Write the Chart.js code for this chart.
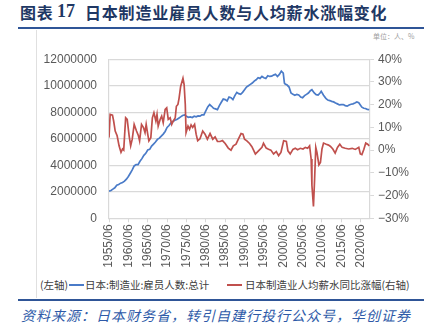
<!DOCTYPE html>
<html>
<head>
<meta charset="utf-8">
<script src="https://cdn.jsdelivr.net/npm/chart.js@4"></script>
<style>
  body { margin: 0; width: 435px; height: 334px; background: #fff; position: relative; overflow: hidden; font-family: "Noto Sans CJK SC", sans-serif; }
  .titre { position: absolute; top: 0px; font-size: 16px; font-weight: bold; color: #1f3864; white-space: nowrap; line-height: 24px; letter-spacing: 0.8px; }
  .titre.num { font-family: "Liberation Serif", serif; font-size: 18px; letter-spacing: 0; }
  .regle { position: absolute; left: 18px; width: 406px; height: 2px; background: #2f5597; }
  .bord { position: absolute; left: 36px; top: 30px; width: 1px; height: 268px; background: #e0e0e0; }
  .unite { position: absolute; left: 373px; top: 31px; font-size: 7px; color: #a0a0a0; white-space: nowrap; }
  .leg { position: absolute; top: 277px; font-size: 10.5px; line-height: 16px; color: #404040; white-space: nowrap; }
  .trait { position: absolute; top: 284px; height: 2px; width: 15px; }
  .source { position: absolute; left: 21px; top: 305px; font-size: 14px; line-height: 20px; font-style: italic; letter-spacing: 1px; color: #2e5aa8; white-space: nowrap; }
  canvas { position: absolute; left: 37px; top: 40px; }
</style>
</head>
<body>
<div class="titre" style="left:20px">图表</div>
<div class="titre num" style="left:57px;top:-1px">17</div>
<div class="titre" style="left:85px">日本制造业雇员人数与人均薪水涨幅变化</div>
<div class="regle" style="top:27px"></div>
<div class="bord"></div>
<div class="unite">单位：人、%</div>
<canvas id="graphique" width="390" height="235"></canvas>
<div class="leg" style="left:40px">(左轴)</div>
<div class="trait" style="left:69px;background:#4a7bc8"></div>
<div class="leg" style="left:85px">日本:制造业:雇员人数:总计</div>
<div class="trait" style="left:227px;background:#c0504d"></div>
<div class="leg" style="left:245px">日本制造业人均薪水同比涨幅(右轴)</div>
<div class="regle" style="top:299px"></div>
<div class="source">资料来源：日本财务省，转引自建行投行公众号，华创证券</div>
<script>
// x tick labels (category every 5 years, June)
const xTickLabels = ['1955/06', '1960/06', '1965/06', '1970/06', '1975/06', '1980/06', '1985/06',
  '1990/06', '1995/06', '2000/06', '2005/06', '2010/06', '2015/06', '2020/06'];

// employees, manufacturing (persons)
const employeYears = [1955.5, 1956.0, 1956.5, 1957.0, 1957.5, 1958.0, 1958.5, 1959.0, 1959.5, 1960.0,
  1960.5, 1961.0, 1961.5, 1962.0, 1962.5, 1963.0, 1963.5, 1964.0, 1964.5, 1965.0,
  1965.5, 1966.0, 1966.5, 1967.0, 1967.5, 1968.0, 1968.5, 1969.0, 1969.5, 1970.0,
  1970.5, 1971.0, 1971.5, 1972.0, 1972.5, 1973.0, 1973.5, 1974.0, 1974.5, 1975.0,
  1975.5, 1976.0, 1976.5, 1977.0, 1977.5, 1978.0, 1978.5, 1979.0, 1979.5, 1980.0,
  1980.5, 1981.0, 1981.5, 1982.0, 1982.5, 1983.0, 1983.5, 1984.0, 1984.5, 1985.0,
  1985.5, 1986.0, 1986.5, 1987.0, 1987.5, 1988.0, 1988.5, 1989.0, 1989.5, 1990.0,
  1990.5, 1991.0, 1991.5, 1992.0, 1992.5, 1993.0, 1993.5, 1994.0, 1994.5, 1995.0,
  1995.5, 1996.0, 1996.5, 1997.0, 1997.5, 1998.0, 1998.5, 1999.0, 1999.5, 2000.0,
  2000.5, 2000.8, 2001.0, 2001.5, 2002.0, 2002.5, 2003.0, 2003.5, 2004.0, 2004.5,
  2005.0, 2005.5, 2006.0, 2006.5, 2007.0, 2007.5, 2007.9, 2008.5, 2009.0, 2009.5,
  2010.0, 2010.3, 2010.9, 2011.5, 2012.0, 2012.5, 2013.0, 2013.5, 2014.0, 2014.5,
  2015.0, 2015.5, 2016.0, 2016.5, 2017.0, 2017.5, 2018.0, 2018.5, 2019.0, 2019.5,
  2020.0, 2020.4, 2020.8, 2021.3, 2021.7, 2022.2, 2022.7];
const employeValues = [2050000, 2100000, 2200000, 2300000, 2500000, 2550000, 2650000, 2700000, 2800000, 2950000,
  3150000, 3400000, 3650000, 3950000, 4050000, 4050000, 4300000, 4500000, 4750000, 4900000,
  5150000, 5200000, 5450000, 5600000, 5750000, 5950000, 6050000, 6200000, 6350000, 6550000,
  6850000, 7000000, 7200000, 7300000, 7400000, 7450000, 7550000, 7650000, 7750000, 7800000,
  7700000, 7620000, 7650000, 7600000, 7700000, 7650000, 7720000, 7700000, 7800000, 7800000,
  8100000, 8400000, 8580000, 8450000, 8300000, 8250000, 8200000, 8500000, 8750000, 9000000,
  8950000, 8850000, 9150000, 9100000, 8950000, 9250000, 9500000, 9400000, 9350000, 9500000,
  9700000, 9900000, 10000000, 10100000, 10200000, 10350000, 10450000, 10600000, 10550000, 10700000,
  10600000, 10550000, 10750000, 10700000, 10720000, 10800000, 10870000, 10700000, 10850000, 11100000,
  10950000, 10200000, 10120000, 10050000, 9900000, 9450000, 9350000, 9280000, 9350000, 9300000,
  9150000, 9100000, 9250000, 9350000, 9450000, 9620000, 9700000, 9450000, 9330000, 9300000,
  9450000, 9580000, 9280000, 9050000, 8920000, 8880000, 8820000, 8780000, 8700000, 8630000,
  8550000, 8570000, 8580000, 8500000, 8460000, 8550000, 8600000, 8630000, 8700000, 8780000,
  8720000, 8550000, 8380000, 8300000, 8280000, 8220000, 8200000];

// wage per head, yoy change (%)
const salaireYears = [1955.5, 1955.8, 1956.4, 1956.7, 1957.1, 1957.6, 1958.1, 1958.6, 1959.0, 1959.3,
  1959.8, 1960.2, 1960.7, 1961.1, 1961.5, 1962.0, 1962.6, 1963.1, 1963.4, 1963.9,
  1964.4, 1964.8, 1965.1, 1965.5, 1965.8, 1966.3, 1966.7, 1967.1, 1967.6, 1967.9,
  1968.2, 1968.7, 1969.1, 1969.5, 1970.0, 1970.4, 1970.8, 1971.3, 1971.7, 1972.1,
  1972.6, 1972.9, 1973.3, 1973.6, 1974.0, 1974.6, 1974.9, 1975.2, 1975.4, 1975.9,
  1976.3, 1976.7, 1977.1, 1977.6, 1978.0, 1978.4, 1979.0, 1979.7, 1980.3, 1980.9,
  1981.6, 1982.3, 1982.9, 1983.5, 1984.2, 1984.8, 1985.5, 1986.3, 1987.0, 1987.6,
  1988.3, 1988.9, 1989.6, 1990.1, 1990.5, 1991.1, 1991.8, 1992.4, 1993.3, 1994.1,
  1995.0, 1995.4, 1996.1, 1996.7, 1997.3, 1998.0, 1998.7, 1999.3, 1999.9, 2000.6,
  2001.3, 2001.7, 2002.3, 2003.0, 2003.6, 2004.2, 2004.9, 2005.6, 2006.2, 2006.8,
  2007.3, 2007.7, 2007.9, 2008.3, 2008.6, 2008.9, 2009.2, 2009.7, 2010.1, 2010.5,
  2010.9, 2011.6, 2012.2, 2012.7, 2013.3, 2013.9, 2014.5, 2015.1, 2015.7, 2016.5,
  2017.4, 2018.3, 2019.1, 2020.0, 2020.4, 2020.8, 2021.3, 2021.8, 2022.3, 2022.7];
const salaireValues = [5.5, 15.7, 15.4, 12.8, 8.4, 6.3, 1.9, -1.0, 0.5, 0.0,
  14.2, 13.5, 6.3, 1.9, 4.8, 11.3, 8.4, 6.3, 4.1, 11.3,
  9.9, 7.7, 11.3, 7.0, 4.1, 5.5, 14.2, 16.4, 12.8, 15.7,
  10.6, 13.5, 15.0, 12.1, 17.9, 18.6, 13.5, 14.2, 11.3, 12.8,
  14.2, 19.3, 20.1, 22.9, 28.0, 31.6, 28.8, 20.1, 7.7, 10.6,
  9.2, 11.1, 10.0, 11.3, 7.0, 4.1, 5.0, 8.4, 7.0, 4.8,
  7.3, 4.8, 5.8, 3.8, 3.8, 4.2, 2.9, 0.9, 0.0, 1.9,
  2.6, 4.8, 7.3, 7.0, 4.8, 4.1, 2.9, 1.5, -1.7, -0.3,
  1.2, 3.0, 0.9, 0.4, 0.0, -1.7, -0.6, -2.4, -1.0, 4.1,
  3.8, -0.3, -1.7, 0.3, 0.8, 0.2, 0.8, 0.5, 1.2, 0.8,
  1.9, -3.9, -15.5, -24.8, -12.6, 1.2, -1.0, -6.5, -5.4, 0.5,
  3.1, 2.6, 2.2, 1.6, 0.5, -1.3, 1.2, 2.6, 1.2, 0.8,
  0.5, 0.8, 0.3, 1.2, -1.7, -2.0, 0.3, 3.1, 2.6, 1.9];

const tickFont = { family: "'Liberation Sans', Arial, sans-serif", size: 12 };
const grisTexte = '#595959';
const grisLigne = '#d9d9d9';

const ctx = document.getElementById('graphique').getContext('2d');

const graphique = new Chart(ctx, {
  type: 'line',
  data: {
    datasets: [
      {
        label: '日本制造业人均薪水同比涨幅(右轴)',
        data: salaireYears.map((x, i) => ({ x: x, y: salaireValues[i] })),
        yAxisID: 'y1',
        borderColor: '#c0504d',
        borderWidth: 1.7,
        pointRadius: 0,
        fill: false,
      },
      {
        label: '日本:制造业:雇员人数:总计',
        data: employeYears.map((x, i) => ({ x: x, y: employeValues[i] })),
        yAxisID: 'y',
        borderColor: '#4a7bc8',
        borderWidth: 1.7,
        pointRadius: 0,
        fill: false,
      },
    ],
  },
  options: {
    responsive: false,
    animation: false,
    devicePixelRatio: 1,
    layout: { padding: { top: 17.5, left: 0, right: 0, bottom: 0 } },
    plugins: { legend: { display: false }, tooltip: { enabled: false } },
    scales: {
      x: {
        type: 'linear',
        min: 1955.5,
        max: 2022.9,
        afterBuildTicks: (scale) => {
          scale.ticks = xTickLabels.map(l => ({ value: parseInt(l) + 0.5 }));
        },
        afterFit: (scale) => { scale.height = 56.7; },
        grid: { drawOnChartArea: false, drawTicks: true, tickLength: 4, color: grisLigne },
        border: { display: true, color: grisLigne, width: 1 },
        ticks: {
          autoSkip: false,
          minRotation: 90,
          maxRotation: 90,
          padding: 2,
          color: grisTexte,
          font: tickFont,
          callback: (value, index) => xTickLabels[index],
        },
      },
      y: {
        position: 'left',
        min: 0,
        max: 12000000,
        afterFit: (scale) => { scale.width = 72; },
        grid: { color: grisLigne, lineWidth: 1.2, drawTicks: false },
        border: { display: true, color: grisLigne, width: 1.2 },
        ticks: {
          stepSize: 2000000,
          padding: 12,
          color: grisTexte,
          font: tickFont,
          callback: (value) => String(value),
        },
      },
      y1: {
        position: 'right',
        min: -30,
        max: 40,
        afterFit: (scale) => { scale.width = 57; },
        grid: { drawOnChartArea: false, drawTicks: true, tickLength: 4, color: grisLigne },
        border: { display: true, color: grisLigne, width: 1.2 },
        ticks: {
          stepSize: 10,
          padding: 4,
          color: grisTexte,
          font: tickFont,
          callback: (value) => (value < 0 ? '\u2212' + Math.abs(value) : value) + '%',
        },
      },
    },
  },
});
</script>
</body>
</html>
